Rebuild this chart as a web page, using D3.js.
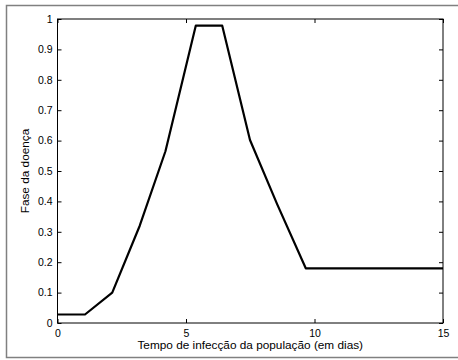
<!DOCTYPE html>
<html><head><meta charset="utf-8">
<script src="https://cdn.jsdelivr.net/npm/d3@7"></script>
<style>body{margin:0;background:#fff}svg{display:block}text{font-family:"Liberation Sans",Arial,sans-serif;font-size:10px;fill:#000}</style>
</head><body>
<script>
const days = [0, 1.07, 2.13, 3.2, 4.2, 5.38, 6.41, 7.49, 8.55, 9.66, 15];
const phase = [0.028, 0.028, 0.10, 0.32, 0.565, 0.978, 0.978, 0.602, 0.39, 0.18, 0.18];
const xTicks = [0, 5, 10, 15];
const yTicks = [0, 0.1, 0.2, 0.3, 0.4, 0.5, 0.6, 0.7, 0.8, 0.9, 1];
const xLabel = "Tempo de infecção da população (em dias)";
const yLabel = "Fase da doença";

const W = 458, H = 360;
const L = 57.5, R = 443, T = 19, B = 323;
const svg = d3.select("body").append("svg").attr("width", W).attr("height", H);
svg.append("rect").attr("x", 6.5).attr("y", 5.5).attr("width", 460).attr("height", 352)
  .attr("fill", "none").attr("stroke", "#808080").attr("stroke-width", 1.5);

const x = d3.scaleLinear().domain([0, 15]).range([L, R]);
const y = d3.scaleLinear().domain([0, 1]).range([B, T]);

const fmt = d => String(d);
const gx = svg.append("g").attr("transform", `translate(0,${B})`)
  .call(d3.axisBottom(x).tickValues(xTicks).tickFormat(fmt).tickSizeInner(-4).tickSizeOuter(0).tickPadding(7));
const gy = svg.append("g").attr("transform", `translate(${L},0)`)
  .call(d3.axisLeft(y).tickValues(yTicks).tickFormat(fmt).tickSizeInner(-4).tickSizeOuter(0).tickPadding(5));
const gx2 = svg.append("g").attr("transform", `translate(0,${T})`)
  .call(d3.axisTop(x).tickValues(xTicks).tickFormat("").tickSizeInner(-4).tickSizeOuter(0));
const gy2 = svg.append("g").attr("transform", `translate(${R},0)`)
  .call(d3.axisRight(y).tickValues(yTicks).tickFormat("").tickSizeInner(-4).tickSizeOuter(0));
[gx, gy, gx2, gy2].forEach(g => {
  g.select(".domain").remove();
  g.selectAll("line").attr("stroke", "#000");
  g.selectAll("text").style("font-family", '"Liberation Sans",Arial,sans-serif').style("font-size", "10.5px").attr("fill", "#000");
});

svg.append("rect").attr("x", L).attr("y", T).attr("width", R - L).attr("height", B - T)
  .attr("fill", "none").attr("stroke", "#000").attr("stroke-width", 1);

const line = d3.line().x((d, i) => x(days[i])).y(d => y(d));
svg.append("path").datum(phase).attr("d", line).attr("fill", "none")
  .attr("stroke", "#000").attr("stroke-width", 2.2).attr("stroke-linejoin", "round");

svg.append("text").attr("x", (L + R) / 2).attr("y", 349).attr("text-anchor", "middle")
  .style("font-size", "11.8px").text(xLabel);
svg.append("text").attr("transform", `translate(29,${(T + B) / 2}) rotate(-90)`)
  .attr("text-anchor", "middle").style("font-size", "11.8px").text(yLabel);
</script>
</body></html>
